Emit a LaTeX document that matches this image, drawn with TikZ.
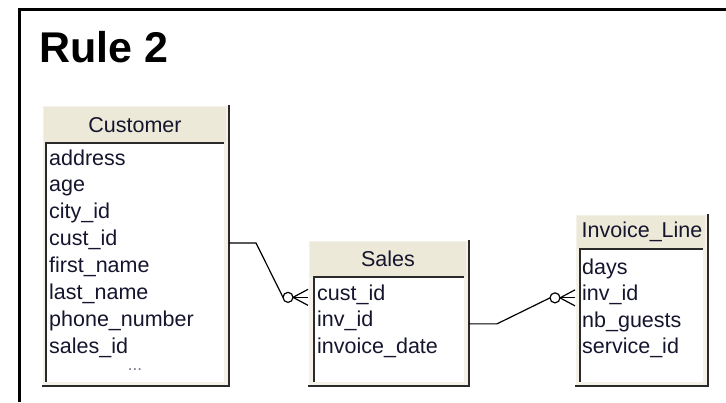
\documentclass[tikz,border=0pt]{standalone}
\usepackage{fontspec}
\setmainfont{Liberation Sans}
\usetikzlibrary{calc}

\definecolor{hdrfill}{HTML}{ECE9D8}
\definecolor{rimfill}{HTML}{F3F1E8}
\definecolor{darkedge}{HTML}{2A2A2A}
\definecolor{fieldink}{HTML}{15152E}

% One ER table: name, x1, y1, x2, y2, header bottom, inner left offset
\newcommand\ertable[7]{%
  \node[tablebox, minimum width={#4-#2}, minimum height={#5-#3}] (#1) at ({(#2+#4)/2},{(#3+#5)/2}) {};
  \fill[rimfill] (#2,#3) rectangle (#4,#5);
  \fill[hdrfill] (#2+2,#3+2) rectangle (#4-3,#6);
  \draw[white, line width=1.2pt] (#2+0.6,#5-1) -- (#2+0.6,#3+0.6) -- (#4-1,#3+0.6);
  \fill[white] (#2+#7,#6) rectangle (#4-5,#5-4);
  \draw[darkedge, line width=1.6pt] (#2+#7,#5-4) -- (#2+#7,#6) -- (#4-5,#6);
  \draw[darkedge, line width=2.2pt] (#2,#5) -- (#4,#5) -- (#4,#3);
}

\tikzset{
  tablebox/.style={inner sep=0, outer sep=0, draw=none},
  field/.style={anchor=base west, inner sep=0, text=fieldink,
    font=\fontsize{21.5}{24}\selectfont},
  header/.style={anchor=base, inner sep=0, text=fieldink,
    font=\fontsize{21.5}{24}\selectfont},
  conn/.style={line width=1.2pt, black},
  zeromany/.pic={
    \draw[conn] (-20,0) circle[radius=5];
    \draw[conn] (-15,0) -- (0,-8);
    \draw[conn] (-15,0) -- (0,0);
    \draw[conn] (-15,0) -- (0,8);
  }
}

\begin{document}
\begin{tikzpicture}[x=1pt, y=-1pt]
\useasboundingbox (0,0) rectangle (726,402);
\fill[white] (0,0) rectangle (726,402);

% page frame, running off the right and bottom
\draw[line width=3pt, black] (19,402) -- (19,9) -- (726,9);

\node[anchor=base west, inner sep=0, font=\bfseries\fontsize{43}{45}\selectfont] (title) at (39,62) {Rule 2};

% Customer
\ertable{cust}{42}{105}{229}{386}{143}{4}
\node[header] (custh) at (135,132) {Customer};
\node[field] (caddr)  at (49,165.0) {address};
\node[field] (cage)   at (49,191.9) {age};
\node[field] (ccity)  at (49,218.7) {city\_id};
\node[field] (ccust)  at (49,245.6) {cust\_id};
\node[field] (cfirst) at (49,272.4) {first\_name};
\node[field] (clast)  at (49,299.3) {last\_name};
\node[field] (cphone) at (49,326.2) {phone\_number};
\node[field] (csales) at (49,353.0) {sales\_id};
\node[header, text=fieldink!60, font=\fontsize{17}{20}\selectfont] (cmore) at (135,370) {...};

% Sales
\ertable{sales}{308}{240}{469}{386}{277}{6}
\node[header] (salesh) at (388,266) {Sales};
\node[field] (scust) at (317,300) {cust\_id};
\node[field] (sinv)  at (317,326.5) {inv\_id};
\node[field] (sdate) at (317,353) {invoice\_date};

% Invoice_Line
\ertable{inv}{575}{214}{708}{386}{249}{5}
\node[header] (invh) at (642,237) {Invoice\_Line};
\node[field] (idays)  at (582,274) {days};
\node[field] (iinv)   at (582,300.5) {inv\_id};
\node[field] (iguest) at (582,327) {nb\_guests};
\node[field] (iserv)  at (582,353.5) {service\_id};

% Customer.cust_id -> Sales.cust_id (zero or many)
\draw[conn] (ccust.mid -| cust.east) -- ++(27,0) coordinate (k1)
  -- ($(scust.mid -| sales.west)+(-25,0)$);
\pic at (scust.mid -| sales.west) {zeromany};

% Sales.inv_id -> Invoice_Line.inv_id (zero or many)
\draw[conn] (sinv.mid -| sales.east) -- ++(28,0) coordinate (k2)
  -- ($(iinv.mid -| inv.west)+(-25,0)$);
\pic at (iinv.mid -| inv.west) {zeromany};
\end{tikzpicture}
\end{document}
